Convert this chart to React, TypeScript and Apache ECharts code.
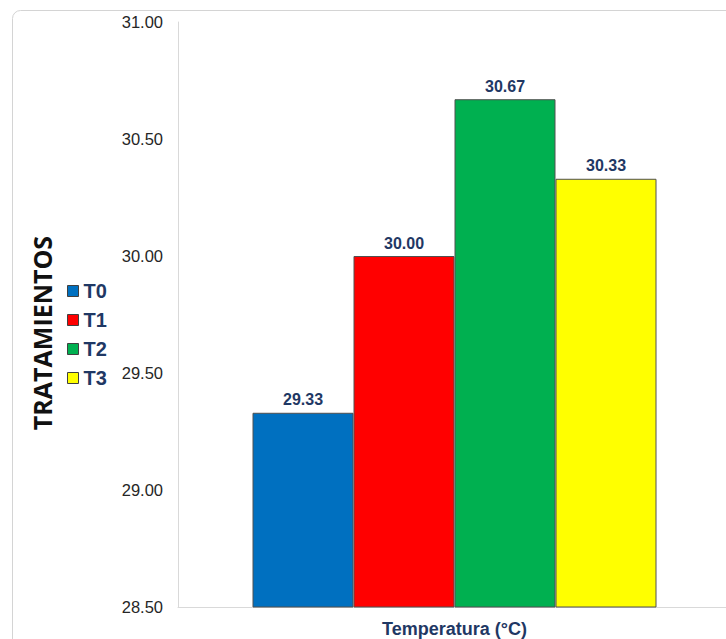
import React, { useEffect, useRef } from "react";
import * as echarts from "echarts";

// Treatments and their mean temperature (°C)
const treatments = ["T0", "T1", "T2", "T3"];
const temperatures = [29.33, 30.0, 30.67, 30.33];
const barColors = ["#0070C0", "#FF0000", "#00B050", "#FFFF00"];
const categoryLabels = ["Temperatura (°C)"];
const yTicks = { min: 28.5, max: 31, interval: 0.5 };

const NAVY = "#1F3864";
const FONT = "Liberation Sans, Arial, sans-serif";

export default function App() {
  const ref = useRef<HTMLDivElement>(null);

  useEffect(() => {
    document.body.style.margin = "0";
    if (!ref.current) return;
    const chart = echarts.init(ref.current, null, { renderer: "svg" });

    const series = treatments.map((name, i) => ({
      name,
      type: "bar" as const,
      data: [temperatures[i]],
      barWidth: 101,
      barGap: "0%",
      itemStyle: {
        color: barColors[i],
        borderColor: "#505050",
        borderWidth: 1,
      },
      label: {
        show: true,
        position: "top" as const,
        distance: 5,
        formatter: (p: any) => Number(p.value).toFixed(2),
        color: NAVY,
        fontWeight: "bold" as const,
        fontSize: 16,
        fontFamily: FONT,
      },
    }));

    chart.setOption({
      animation: false,
      backgroundColor: "#ffffff",
      textStyle: { fontFamily: FONT },
      graphic: [
        {
          type: "rect",
          shape: { x: 12.5, y: 10.5, width: 760, height: 680, r: 8 },
          style: { fill: "none", stroke: "#D4D4D4", lineWidth: 1 },
          z: -10,
        },
        {
          type: "text",
          x: 42,
          y: 333,
          rotation: Math.PI / 2,
          style: {
            text: "TRATAMIENTOS",
            fontSize: 25,
            fontWeight: "bold",
            fontFamily: "Open Sans, Liberation Sans, sans-serif",
            fill: "#111111",
            align: "center",
            verticalAlign: "middle",
          },
        },
      ],
      legend: {
        orient: "vertical",
        left: 62,
        top: 276,
        itemWidth: 11,
        itemHeight: 11,
        itemGap: 9,
        icon: "rect",
        itemStyle: { borderColor: "#404040", borderWidth: 1 },
        textStyle: {
          color: NAVY,
          fontSize: 20,
          fontWeight: "bold",
          fontFamily: FONT,
        },
        data: treatments,
      },
      grid: { left: 178, top: 22, bottom: 32, width: 553 },
      xAxis: {
        type: "category",
        data: categoryLabels,
        axisLine: { lineStyle: { color: "#D9D9D9", width: 1 } },
        axisTick: { show: false },
        axisLabel: {
          color: NAVY,
          fontSize: 18,
          fontWeight: "bold",
          fontFamily: FONT,
          margin: 13,
        },
      },
      yAxis: {
        type: "value",
        min: yTicks.min,
        max: yTicks.max,
        interval: yTicks.interval,
        axisLine: { show: true, lineStyle: { color: "#D9D9D9", width: 1 } },
        axisTick: { show: false },
        splitLine: { show: false },
        axisLabel: {
          color: "#262626",
          fontSize: 16.5,
          fontFamily: FONT,
          margin: 15,
          formatter: (v: number) => v.toFixed(2),
        },
      },
      series,
    });

    return () => chart.dispose();
  }, []);

  return (
    <div style={{ width: 726, height: 639, overflow: "hidden" }}>
      <div ref={ref} style={{ width: 760, height: 639 }} />
    </div>
  );
}
